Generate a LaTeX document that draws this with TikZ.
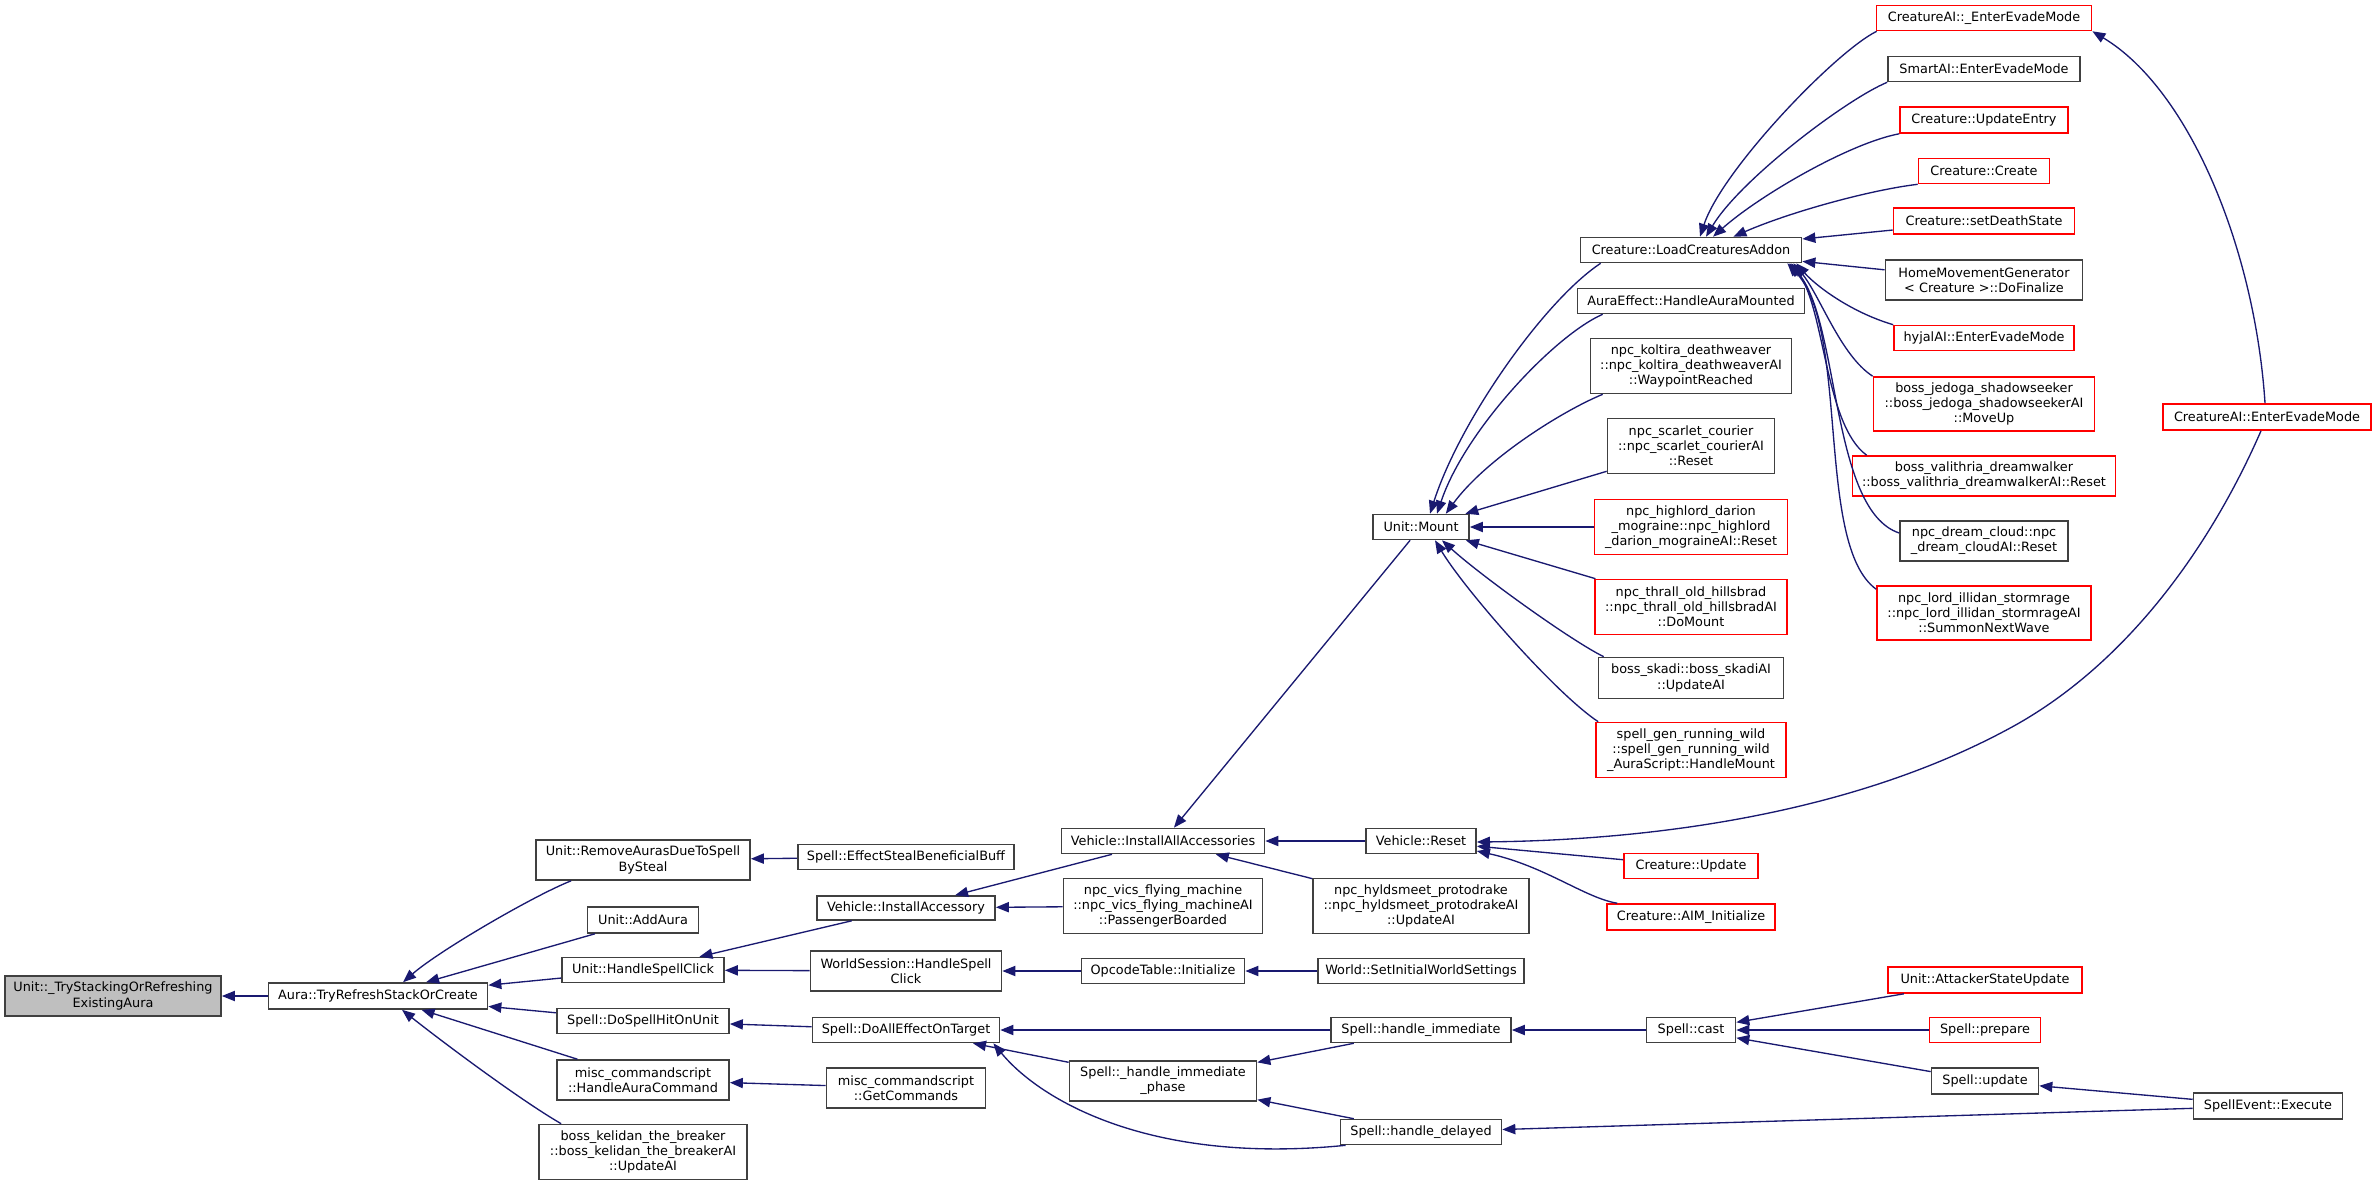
\documentclass[tikz,border=0pt]{standalone}
\usepackage{fontspec}
\setmainfont{DejaVu Sans}
\usetikzlibrary{arrows.meta,calc}
\definecolor{edgeblue}{HTML}{191970}
\definecolor{boxgray}{HTML}{404040}
\definecolor{fillgray}{HTML}{BFBFBF}
\definecolor{boxred}{HTML}{FF0000}
\tikzset{
  box/.style={draw=boxgray, line width=0.45pt, fill=white, inner sep=0pt, align=center,
    font=\fontsize{3.65pt}{4.3pt}\selectfont, text=black},
  redbox/.style={box, draw=boxred},
  graybox/.style={box, fill=fillgray},
  edge/.style={draw=edgeblue, line width=0.38pt, -{Triangle[length=3.7pt,width=2.9pt]}},
}
\begin{document}
\begin{tikzpicture}[x=0.01cm,y=-0.01cm]
\useasboundingbox (0,0) rectangle (2373,1185);
% column 0-1
\node[graybox, minimum width=2.16cm, minimum height=0.40cm] (n0) at (113,996) {Unit::\_TryStackingOrRefreshing\\ExistingAura};
\node[box, minimum width=2.19cm, minimum height=0.26cm] (aura) at (378,996) {Aura::TryRefreshStackOrCreate};
% column 2
\node[box, minimum width=2.14cm, minimum height=0.40cm] (rmsteal) at (643,860) {Unit::RemoveAurasDueToSpell\\BySteal};
\node[box, minimum width=1.11cm, minimum height=0.26cm] (addaura) at (643,920) {Unit::AddAura};
\node[box, minimum width=1.62cm, minimum height=0.25cm] (hsc) at (643,970) {Unit::HandleSpellClick};
\node[box, minimum width=1.72cm, minimum height=0.25cm] (dshu) at (643,1021) {Spell::DoSpellHitOnUnit};
\node[box, minimum width=1.72cm, minimum height=0.40cm] (hac) at (643,1080) {misc\_commandscript\\::HandleAuraCommand};
\node[box, minimum width=2.08cm, minimum height=0.55cm] (kel) at (643,1152) {boss\_kelidan\_the\_breaker\\::boss\_kelidan\_the\_breakerAI\\::UpdateAI};
% column 3
\node[box, minimum width=2.16cm, minimum height=0.25cm] (esbb) at (906,857) {Spell::EffectStealBeneficialBuff};
\node[box, minimum width=1.78cm, minimum height=0.24cm] (ia) at (906,908) {Vehicle::InstallAccessory};
\node[box, minimum width=1.91cm, minimum height=0.40cm] (wshsc) at (906,971) {WorldSession::HandleSpell\\Click};
\node[box, minimum width=1.87cm, minimum height=0.25cm] (daet) at (906,1030) {Spell::DoAllEffectOnTarget};
\node[box, minimum width=1.59cm, minimum height=0.40cm] (gc) at (906,1088) {misc\_commandscript\\::GetCommands};
% column 4
\node[box, minimum width=2.03cm, minimum height=0.25cm] (iaa) at (1163,841) {Vehicle::InstallAllAccessories};
\node[box, minimum width=1.99cm, minimum height=0.55cm] (vics) at (1163,906) {npc\_vics\_flying\_machine\\::npc\_vics\_flying\_machineAI\\::PassengerBoarded};
\node[box, minimum width=1.63cm, minimum height=0.25cm] (oti) at (1163,971) {OpcodeTable::Initialize};
\node[box, minimum width=1.87cm, minimum height=0.40cm] (hip) at (1163,1081) {Spell::\_handle\_immediate\\\_phase};
% column 5
\node[box, minimum width=0.96cm, minimum height=0.25cm] (mount) at (1421,527) {Unit::Mount};
\node[box, minimum width=1.10cm, minimum height=0.25cm] (vreset) at (1421,841) {Vehicle::Reset};
\node[box, minimum width=2.16cm, minimum height=0.55cm] (hyld) at (1421,906) {npc\_hyldsmeet\_protodrake\\::npc\_hyldsmeet\_protodrakeAI\\::UpdateAI};
\node[box, minimum width=2.06cm, minimum height=0.25cm] (siws) at (1421,971) {World::SetInitialWorldSettings};
\node[box, minimum width=1.80cm, minimum height=0.25cm] (himm) at (1421,1030) {Spell::handle\_immediate};
\node[box, minimum width=1.61cm, minimum height=0.25cm] (hdel) at (1421,1132) {Spell::handle\_delayed};
% column 6
\node[box, minimum width=2.21cm, minimum height=0.25cm] (lca) at (1691,250) {Creature::LoadCreaturesAddon};
\node[box, minimum width=2.27cm, minimum height=0.25cm] (ham) at (1691,301) {AuraEffect::HandleAuraMounted};
\node[box, minimum width=2.01cm, minimum height=0.55cm] (kolt) at (1691,366) {npc\_koltira\_deathweaver\\::npc\_koltira\_deathweaverAI\\::WaypointReached};
\node[box, minimum width=1.67cm, minimum height=0.55cm] (scar) at (1691,446) {npc\_scarlet\_courier\\::npc\_scarlet\_courierAI\\::Reset};
\node[redbox, minimum width=1.93cm, minimum height=0.55cm] (darion) at (1691,527) {npc\_highlord\_darion\\\_mograine::npc\_highlord\\\_darion\_mograineAI::Reset};
\node[redbox, minimum width=1.92cm, minimum height=0.55cm] (thrall) at (1691,607) {npc\_thrall\_old\_hillsbrad\\::npc\_thrall\_old\_hillsbradAI\\::DoMount};
\node[box, minimum width=1.85cm, minimum height=0.41cm] (skadi) at (1691,678) {boss\_skadi::boss\_skadiAI\\::UpdateAI};
\node[redbox, minimum width=1.90cm, minimum height=0.55cm] (wild) at (1691,750) {spell\_gen\_running\_wild\\::spell\_gen\_running\_wild\\\_AuraScript::HandleMount};
\node[redbox, minimum width=1.34cm, minimum height=0.25cm] (cupd) at (1691,866) {Creature::Update};
\node[redbox, minimum width=1.68cm, minimum height=0.26cm] (aim) at (1691,917) {Creature::AIM\_Initialize};
\node[box, minimum width=0.89cm, minimum height=0.25cm] (cast) at (1691,1030) {Spell::cast};
% column 7
\node[redbox, minimum width=2.15cm, minimum height=0.25cm] (eem) at (1984,18) {CreatureAI::\_EnterEvadeMode};
\node[box, minimum width=1.92cm, minimum height=0.25cm] (smart) at (1984,69) {SmartAI::EnterEvadeMode};
\node[redbox, minimum width=1.68cm, minimum height=0.26cm] (uentry) at (1984,120) {Creature::UpdateEntry};
\node[redbox, minimum width=1.31cm, minimum height=0.25cm] (create) at (1984,171) {Creature::Create};
\node[redbox, minimum width=1.81cm, minimum height=0.26cm] (death) at (1984,221) {Creature::setDeathState};
\node[box, minimum width=1.97cm, minimum height=0.40cm] (home) at (1984,280) {HomeMovementGenerator\\< Creature >::DoFinalize};
\node[redbox, minimum width=1.80cm, minimum height=0.25cm] (hyjal) at (1984,338) {hyjalAI::EnterEvadeMode};
\node[redbox, minimum width=2.21cm, minimum height=0.54cm] (jedoga) at (1984,404) {boss\_jedoga\_shadowseeker\\::boss\_jedoga\_shadowseekerAI\\::MoveUp};
\node[redbox, minimum width=2.63cm, minimum height=0.40cm] (vali) at (1984,476) {boss\_valithria\_dreamwalker\\::boss\_valithria\_dreamwalkerAI::Reset};
\node[box, minimum width=1.68cm, minimum height=0.40cm] (dream) at (1984,541) {npc\_dream\_cloud::npc\\\_dream\_cloudAI::Reset};
\node[redbox, minimum width=2.14cm, minimum height=0.54cm] (illidan) at (1984,613) {npc\_lord\_illidan\_stormrage\\::npc\_lord\_illidan\_stormrageAI\\::SummonNextWave};
\node[redbox, minimum width=1.94cm, minimum height=0.26cm] (asu) at (1985,980) {Unit::AttackerStateUpdate};
\node[redbox, minimum width=1.11cm, minimum height=0.25cm] (prep) at (1985,1030) {Spell::prepare};
\node[box, minimum width=1.07cm, minimum height=0.26cm] (supd) at (1985,1081) {Spell::update};
% column 8
\node[redbox, minimum width=2.08cm, minimum height=0.26cm] (ceem) at (2267,417) {CreatureAI::EnterEvadeMode};
\node[box, minimum width=1.49cm, minimum height=0.26cm] (see) at (2268,1106) {SpellEvent::Execute};

% ---------- edges ----------
\draw[edge] (aura) -- (n0);
\draw[edge] ($(rmsteal.south west)+(36,0)$) .. controls (535,895) and (440,950) .. ($(aura.north)+(25,0)$);
\draw[edge] (addaura) -- (aura);
\draw[edge] (hsc) -- (aura);
\draw[edge] (dshu) -- (aura);
\draw[edge] (hac) -- (aura);
\draw[edge] ($(kel.north west)+(23,0)$) .. controls (520,1100) and (440,1040) .. ($(aura.south)+(24,0)$);

\draw[edge] (esbb) -- (rmsteal);
\draw[edge] (ia) -- (hsc);
\draw[edge] (wshsc) -- (hsc);
\draw[edge] (daet) -- (dshu);
\draw[edge] (gc) -- (hac);

\draw[edge] (iaa) -- (ia);
\draw[edge] (vics) -- (ia);
\draw[edge] (oti) -- (wshsc);
\draw[edge] (himm) -- (daet);
\draw[edge] (hip) -- (daet);
\draw[edge] ($(hdel.south west)+(6,0)$) .. controls (1150,1165) and (1040,1100) .. ($(daet.south east)+(-7,0)$);

\draw[edge] (mount) -- (iaa);
\draw[edge] (vreset) -- (iaa);
\draw[edge] (hyld) -- (iaa);
\draw[edge] (siws) -- (oti);
\draw[edge] (himm) -- (hip);
\draw[edge] (hdel) -- (hip);
\draw[edge] (cast) -- (himm);
\draw[edge] (see) -- (hdel);

\draw[edge] ($(lca.south west)+(21,0)$) .. controls (1545,300) and (1460,420) .. ($(mount.north)+(9,0)$);
\draw[edge] ($(ham.south west)+(26,0)$) .. controls (1555,335) and (1465,430) .. ($(mount.north)+(16,0)$);
\draw[edge] ($(kolt.south west)+(13,0)$) .. controls (1560,412) and (1485,460) .. ($(mount.north east)+(-24,0)$);
\draw[edge] (scar) -- (mount);
\draw[edge] (darion) -- (mount);
\draw[edge] (thrall) -- (mount);
\draw[edge] ($(skadi.north west)+(6,0)$) .. controls (1570,640) and (1480,575) .. ($(mount.south)+(21,0)$);
\draw[edge] ($(wild.north west)+(3,0)$) .. controls (1555,693) and (1465,590) .. ($(mount.south)+(14,0)$);

\draw[edge] (cupd) -- (vreset);
\draw[edge] ($(aim.north west)+(11,0)$) .. controls (1585,898) and (1545,866) .. ($(vreset.east)+(0,10)$);
\draw[edge] ($(ceem.south)+(-6,0)$) .. controls (2209,550) and (2125,665) .. (2012,727) .. controls (1855,813) and (1656,840) .. ($(vreset.east)+(0,1)$);

\draw[edge] (asu) -- (cast);
\draw[edge] (prep) -- (cast);
\draw[edge] (supd) -- (cast);
\draw[edge] (see) -- (supd);

\draw[edge] ($(eem.south west)+(1,0)$) .. controls (1835,52) and (1722,170) .. ($(lca.north)+(9,0)$);
\draw[edge] (smart.south west) .. controls (1845,100) and (1740,180) .. ($(lca.north)+(15,0)$);
\draw[edge] (uentry.south west) .. controls (1850,143) and (1760,195) .. ($(lca.north)+(22,0)$);
\draw[edge] (create.south west) .. controls (1870,190) and (1790,212) .. ($(lca.north east)+(-69,0)$);
\draw[edge] (death) -- (lca);
\draw[edge] (home) -- (lca);
\draw[edge] (hyjal.north west) .. controls (1850,312) and (1815,285) .. ($(lca.south east)+(-6,0)$);
\draw[edge] (jedoga.north west) .. controls (1840,355) and (1820,295) .. ($(lca.south east)+(-9,0)$);
\draw[edge] ($(vali.north west)+(15,0)$) .. controls (1825,425) and (1825,310) .. ($(lca.south east)+(-11,0)$);
\draw[edge] ($(dream.west)+(0,-8)$) .. controls (1830,510) and (1840,320) .. ($(lca.south east)+(-13,0)$);
\draw[edge] ($(illidan.north west)+(0,4)$) .. controls (1815,545) and (1850,330) .. ($(lca.south east)+(-15,0)$);

\draw[edge] ($(ceem.north)+(-2,0)$) .. controls (2255,250) and (2190,90) .. (eem.south east);
\end{tikzpicture}
\end{document}
